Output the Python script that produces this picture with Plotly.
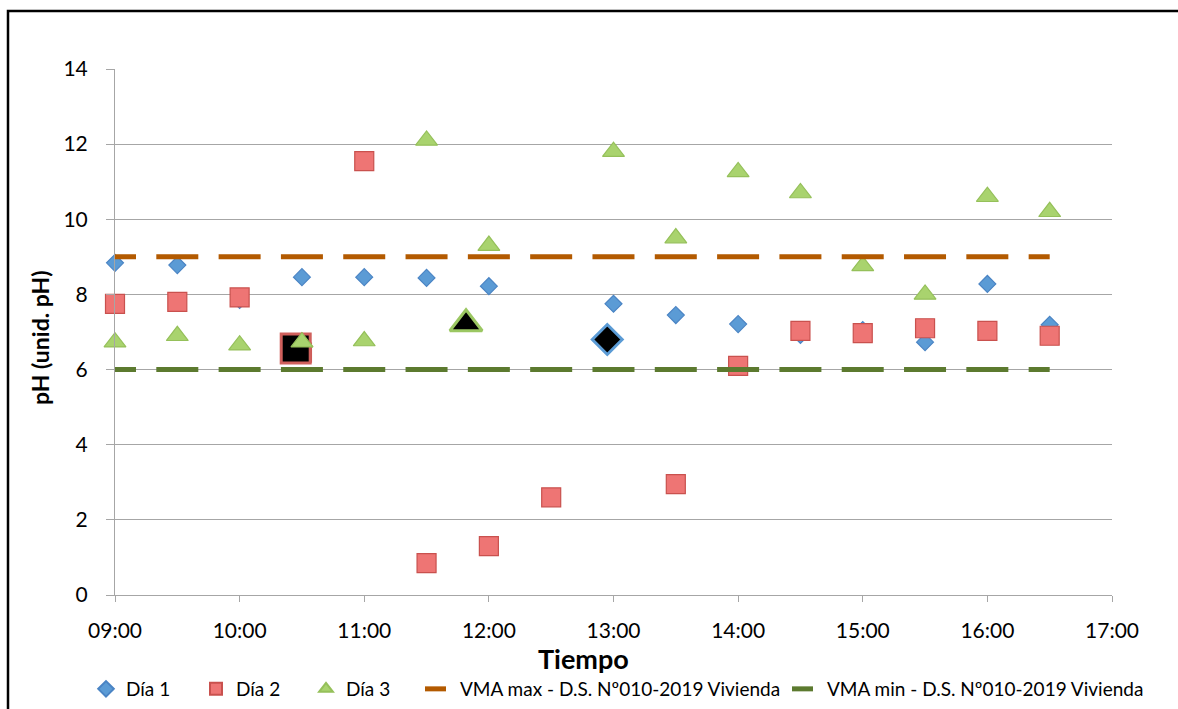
import plotly.graph_objects as go

# ---------------- data ----------------
times = ["09:00", "09:30", "10:00", "10:30", "11:00", "11:30", "12:00", "12:30",
         "13:00", "13:30", "14:00", "14:30", "15:00", "15:30", "16:00", "16:30"]
dia1 = [8.84, 8.78, 7.85, 8.46, 8.46, 8.44, 8.22, None,
        7.75, 7.45, 7.21, 6.92, 7.05, 6.73, 8.28, 7.19]
dia2 = [7.75, 7.80, 7.92, 6.45, 11.55, 0.85, 1.30, 2.60,
        None, 2.95, 6.10, 7.03, 6.97, 7.10, 7.03, 6.90]
dia3 = [6.73, 6.90, 6.65, 6.73, 6.76, 12.10, 9.30, None,
        11.80, 9.50, 11.26, 10.70, 8.76, 8.00, 10.60, 10.20]
vma_max = [9] * len(times)
vma_min = [6] * len(times)

# highlighted (black) points
hl_times = ["10:27", "11:49", "12:57"]
hl_values = [6.56, 7.22, 6.80]

x_ticks = ["09:00", "10:00", "11:00", "12:00", "13:00", "14:00", "15:00", "16:00", "17:00"]
y_ticks = [0, 2, 4, 6, 8, 10, 12, 14]


def hours(t):
    h, m = t.split(":")
    return int(h) + int(m) / 60.0


xs = [hours(t) for t in times]
hx = [hours(t) for t in hl_times]
tick_x = [hours(t) for t in x_ticks]

# layout geometry (pixels)
W, H = 1178, 709
L, R, T, B = 115, 66, 69, 114
plot_w = W - L - R
plot_h = H - T - B
half_hour_px = plot_w / 16.0
dash_len = 42.0
gap_len = half_hour_px - dash_len
dash_pattern = [dash_len / 2, gap_len] + [dash_len, gap_len] * 20
dash_str = ",".join(f"{v:.2f}px" for v in dash_pattern)

FONT = "Lato, 'Open Sans', sans-serif"


def px_x(p):
    return (p - L) / plot_w


def px_y(p):
    return (H - B - p) / plot_h


BLUE = dict(symbol="diamond", size=13, color="#5B9BD5", line=dict(color="#4A84C4", width=1.2))
RED = dict(symbol="square", size=19, color="#EE7574", line=dict(color="#C9514E", width=1.2))
GREEN = dict(symbol="triangle-up", size=19, color="#A9D36E", line=dict(color="#95C05A", width=1.2))

fig = go.Figure()

fig.add_trace(go.Scatter(x=xs, y=dia1, mode="markers", name="Día 1", legend="legend",
                         marker=BLUE, cliponaxis=False))
fig.add_trace(go.Scatter(x=xs, y=dia2, mode="markers", name="Día 2", legend="legend2",
                         marker=RED, cliponaxis=False))
fig.add_trace(go.Scatter(x=xs, y=dia3, mode="markers", name="Día 3", legend="legend3",
                         marker=GREEN, cliponaxis=False))
fig.add_trace(go.Scatter(
    x=xs, y=vma_max, mode="lines", name="VMA max - D.S. Nº010-2019 Vivienda", legend="legend4",
    line=dict(color="#B35A00", width=5, dash=dash_str), cliponaxis=False,
))
fig.add_trace(go.Scatter(
    x=xs, y=vma_min, mode="lines", name="VMA min - D.S. Nº010-2019 Vivienda", legend="legend5",
    line=dict(color="#5C7A2F", width=5, dash=dash_str), cliponaxis=False,
))

# highlighted black markers
fig.add_trace(go.Scatter(
    x=[hx[0]], y=[hl_values[0]], mode="markers", showlegend=False,
    marker=dict(symbol="square", size=29, color="#000000",
                line=dict(color="#D0605C", width=3)),
))
fig.add_trace(go.Scatter(
    x=[hx[1]], y=[hl_values[1]], mode="markers", showlegend=False,
    marker=dict(symbol="triangle-up", size=28, color="#000000",
                line=dict(color="#9BC762", width=3)),
))
fig.add_trace(go.Scatter(
    x=[hx[2]], y=[hl_values[2]], mode="markers", showlegend=False,
    marker=dict(symbol="diamond", size=23, color="#000000",
                line=dict(color="#5B9BD5", width=3)),
))
# re-draw green triangle on top of black square at 10:30
fig.add_trace(go.Scatter(x=[xs[3]], y=[dia3[3]], mode="markers", showlegend=False,
                         marker=GREEN))

leg_y = px_y(689)


def leg(start_px):
    return dict(orientation="h", x=px_x(start_px), y=leg_y, xanchor="left", yanchor="middle",
                font=dict(size=19, family=FONT), itemsizing="constant",
                bgcolor="rgba(0,0,0,0)")


fig.update_layout(
    width=W, height=H,
    margin=dict(l=L, r=R, t=T, b=B, autoexpand=False),
    paper_bgcolor="white", plot_bgcolor="white",
    font=dict(family=FONT, color="#000000", size=21),
    showlegend=True,
    legend=leg(86),
    legend2=leg(196),
    legend3=leg(306),
    legend4=leg(420),
    legend5=leg(787),
    xaxis=dict(range=[9, 17], tickvals=tick_x, ticktext=x_ticks,
               showgrid=False, zeroline=False, showline=True, linecolor="#A6A6A6",
               linewidth=1, ticks="outside", ticklen=6, tickcolor="#A6A6A6",
               tickfont=dict(size=21), ticklabelstandoff=11),
    yaxis=dict(range=[0, 14], tickvals=y_ticks, showgrid=True, gridcolor="#A6A6A6",
               gridwidth=1, zeroline=False, showline=True, linecolor="#A6A6A6",
               linewidth=1, ticks="outside", ticklen=8, tickcolor="#A6A6A6",
               tickfont=dict(size=21), ticklabelstandoff=14),
)

# axis titles as annotations
fig.add_annotation(text="<b>Tiempo</b>", xref="paper", yref="paper",
                   x=px_x(583), y=px_y(658),
                   showarrow=False, font=dict(size=27, family=FONT),
                   xanchor="center", yanchor="middle")
fig.add_annotation(text="<b>pH (unid. pH)</b>", xref="paper", yref="paper",
                   x=px_x(40), y=px_y(338), textangle=-90,
                   showarrow=False, font=dict(size=23, family=FONT),
                   xanchor="center", yanchor="middle")

# outer chart frame
fig.add_shape(type="rect", xref="paper", yref="paper", layer="above",
              x0=px_x(8), x1=px_x(W + 5), y0=px_y(H + 5), y1=px_y(11),
              line=dict(color="#000000", width=2.5), fillcolor="rgba(0,0,0,0)")

fig.write_html("out.html")
